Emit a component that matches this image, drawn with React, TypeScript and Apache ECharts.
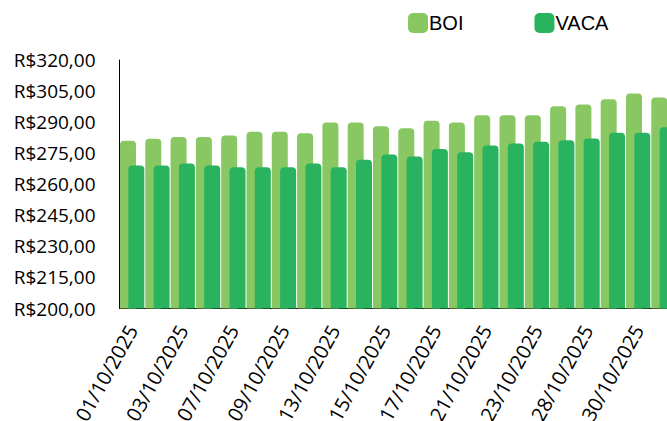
import React, { useEffect, useRef } from "react";
import * as echarts from "echarts";

const categories = [
  "01/10/2025", "02/10/2025", "03/10/2025", "06/10/2025", "07/10/2025", "08/10/2025",
  "09/10/2025", "10/10/2025", "13/10/2025", "14/10/2025", "15/10/2025", "16/10/2025",
  "17/10/2025", "20/10/2025", "21/10/2025", "22/10/2025", "23/10/2025", "27/10/2025",
  "28/10/2025", "29/10/2025", "30/10/2025", "31/10/2025",
];

const boiValues = [
  281.0, 282.0, 282.8, 282.8, 283.6, 285.4, 285.4, 284.6, 289.8, 289.8, 288.0,
  287.1, 290.7, 289.8, 293.3, 293.3, 293.3, 297.7, 298.5, 301.1, 303.8, 301.9,
];

const vacaValues = [
  269.0, 269.0, 270.0, 269.0, 268.2, 268.2, 268.2, 270.0, 268.2, 271.8, 274.4,
  273.4, 277.0, 275.4, 278.7, 279.7, 280.5, 281.3, 282.1, 284.9, 284.9, 287.5,
];

const seriesNames = ["BOI", "VACA"];
const seriesColors = ["#88C762", "#2AB35E"];

export default function App() {
  const ref = useRef<HTMLDivElement>(null);

  useEffect(() => {
    document.body.style.margin = "0";
    if (!ref.current) return;
    const chart = echarts.init(ref.current, undefined, { renderer: "svg" });
    const font = "'Open Sans', 'Noto Sans', sans-serif";
    chart.setOption({
      animation: false,
      backgroundColor: "#ffffff",
      legend: {
        data: seriesNames,
        left: 408,
        top: 13,
        padding: 0,
        itemWidth: 20,
        itemHeight: 20,
        icon: "roundRect",
        itemGap: 71,
        textStyle: {
          fontFamily: "'Liberation Sans', Arial, sans-serif",
          fontSize: 20,
          color: "#000000",
          padding: [0, 0, 0, -4],
        },
      },
      grid: {
        left: 119.5,
        top: 60,
        width: 556.6,
        height: 248.5,
        containLabel: false,
        outerBoundsMode: "none",
      },
      xAxis: {
        type: "category",
        data: categories,
        axisLine: { show: true, lineStyle: { color: "#000000", width: 1 } },
        axisTick: { show: false },
        axisLabel: {
          interval: 1,
          rotate: 61,
          margin: 18,
          fontFamily: font,
          fontSize: 20,
          color: "#000000",
        },
      },
      yAxis: {
        type: "value",
        min: 200,
        max: 320,
        interval: 15,
        axisLine: { show: true, lineStyle: { color: "#000000", width: 1 } },
        axisTick: { show: false },
        splitLine: { show: false },
        axisLabel: {
          margin: 24,
          fontFamily: font,
          fontSize: 19,
          color: "#000000",
          formatter: (v: number) => "R$" + v.toFixed(2).replace(".", ","),
        },
      },
      series: [
        {
          name: seriesNames[0],
          type: "bar",
          data: boiValues,
          barWidth: 16,
          barGap: "-48%",
          itemStyle: { color: seriesColors[0], borderRadius: [4, 4, 0, 0] },
        },
        {
          name: seriesNames[1],
          type: "bar",
          data: vacaValues,
          barWidth: 16,
          barGap: "-48%",
          itemStyle: { color: seriesColors[1], borderRadius: [4, 4, 0, 0] },
        },
      ],
    });
    return () => chart.dispose();
  }, []);

  return <div ref={ref} style={{ width: 667, height: 421 }} />;
}
